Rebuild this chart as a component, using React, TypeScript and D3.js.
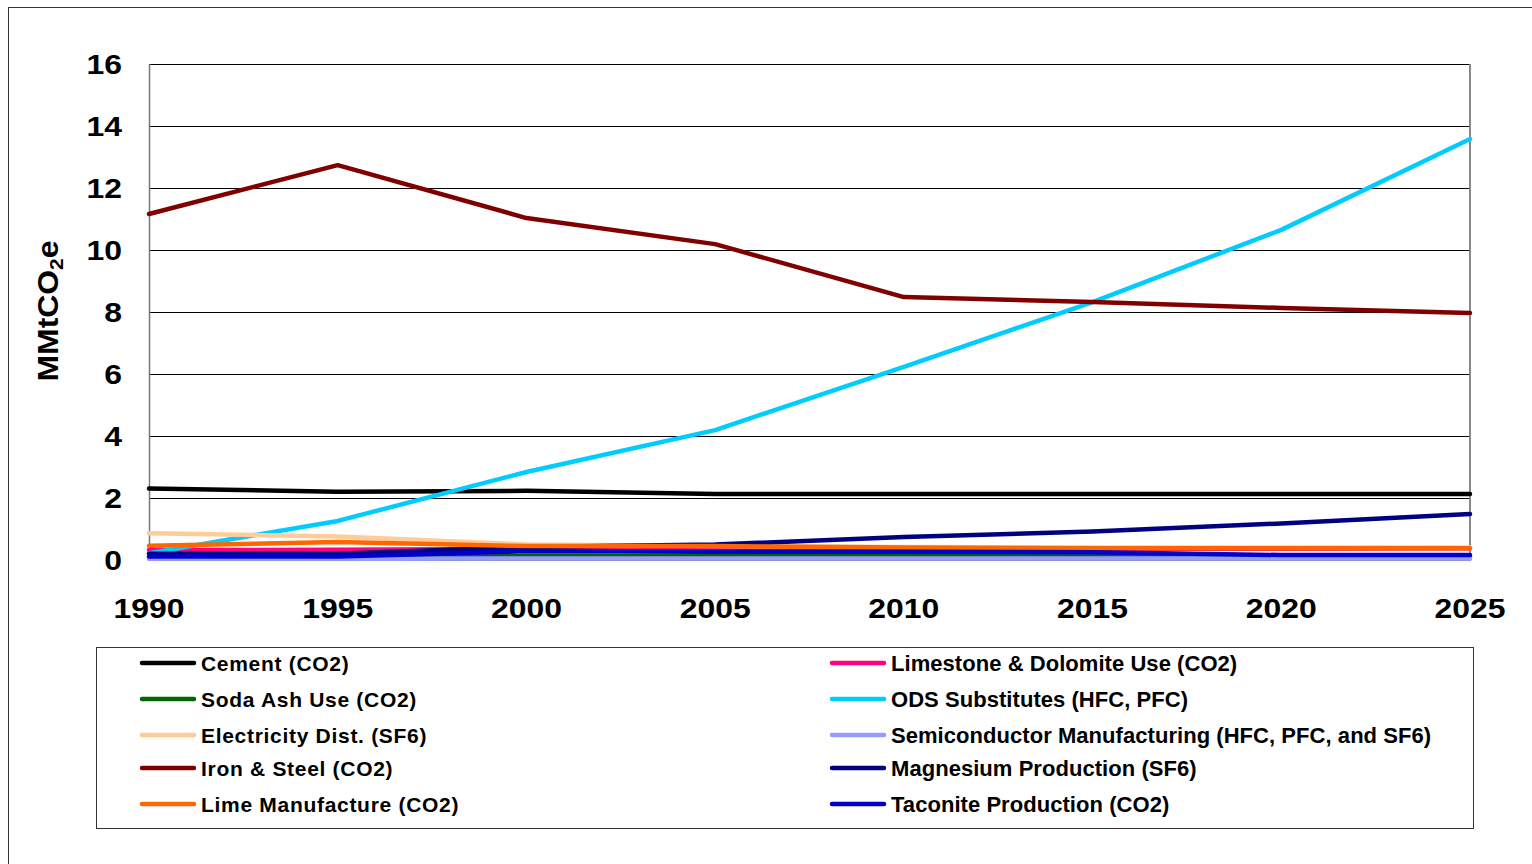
import React from "react";
import * as d3 from "d3";

const years = [1990, 1995, 2000, 2005, 2010, 2015, 2020, 2025];
const yTicks = [0, 2, 4, 6, 8, 10, 12, 14, 16];

const cement = [2.31, 2.2, 2.23, 2.13, 2.13, 2.13, 2.13, 2.13];
const limestone = [0.32, 0.33, 0.36, 0.36, 0.36, 0.36, 0.36, 0.38];
const sodaAsh = [0.1, 0.1, 0.12, 0.12, 0.12, 0.12, 0.1, 0.1];
const ods = [0.22, 1.26, 2.84, 4.19, 6.23, 8.32, 10.65, 13.58];
const electricity = [0.86, 0.76, 0.5, 0.45, 0.42, 0.4, 0.4, 0.4];
const semiconductor = [0.04, 0.04, 0.05, 0.05, 0.05, 0.05, 0.05, 0.05];
const ironSteel = [11.16, 12.74, 11.03, 10.19, 8.48, 8.32, 8.13, 7.97];
const magnesium = [0.2, 0.2, 0.42, 0.5, 0.74, 0.92, 1.18, 1.48];
const lime = [0.46, 0.58, 0.45, 0.45, 0.4, 0.38, 0.38, 0.38];
const taconite = [0.11, 0.11, 0.28, 0.27, 0.27, 0.25, 0.16, 0.16];

const seriesNames = [
  "Cement (CO2)",
  "Limestone & Dolomite Use (CO2)",
  "Soda Ash Use (CO2)",
  "ODS Substitutes (HFC, PFC)",
  "Electricity Dist. (SF6)",
  "Semiconductor Manufacturing (HFC, PFC, and SF6)",
  "Iron & Steel (CO2)",
  "Magnesium Production (SF6)",
  "Lime Manufacture (CO2)",
  "Taconite Production (CO2)",
];
const seriesValues = [
  cement,
  limestone,
  sodaAsh,
  ods,
  electricity,
  semiconductor,
  ironSteel,
  magnesium,
  lime,
  taconite,
];
const seriesColors = [
  "#000000",
  "#FF0080",
  "#006600",
  "#00CCFF",
  "#FFCC99",
  "#9999FF",
  "#800000",
  "#000080",
  "#FF6600",
  "#0000CC",
];

export default function App() {
  const W = 1532;
  const H = 864;
  const left = 149;
  const right = 1470;
  const top = 64;
  const bottom = 560;
  const x = d3.scaleLinear().domain([1990, 2025]).range([left, right]);
  const y = d3.scaleLinear().domain([0, 16]).range([bottom, top]);
  const line = d3
    .line<number>()
    .x((_, i) => x(years[i]))
    .y((d) => y(d));

  const font = "'Liberation Sans', Arial, sans-serif";

  const legendRowsY = [663, 699, 735, 768, 804];
  const legendColX = [140, 830];

  return (
    <svg
      width={W}
      height={H}
      style={{ position: "absolute", left: 0, top: 0, background: "#fff" }}
      fontFamily={font}
    >
      <rect x={0} y={0} width={W} height={H} fill="#fff" />
      {/* outer frame */}
      <line x1={8} y1={7.5} x2={W} y2={7.5} stroke="#333" strokeWidth={1} />
      <line x1={8.5} y1={7} x2={8.5} y2={H} stroke="#333" strokeWidth={1} />

      {/* grid */}
      {yTicks.map((t) => (
        <line
          key={t}
          x1={left}
          x2={right}
          y1={Math.round(y(t)) + 0.5}
          y2={Math.round(y(t)) + 0.5}
          stroke={t === 0 ? "#777" : "#000"}
          strokeWidth={1}
        />
      ))}
      <line x1={left + 0.5} x2={left + 0.5} y1={top} y2={bottom} stroke="#777" strokeWidth={1.5} />
      <line x1={right} x2={right} y1={top} y2={bottom + 1} stroke="#888" strokeWidth={2} />
      {years.map((yr) => (
        <line
          key={yr}
          x1={x(yr)}
          x2={x(yr)}
          y1={bottom - 4}
          y2={bottom + 1}
          stroke="#777"
          strokeWidth={1}
        />
      ))}

      {/* y tick labels */}
      {yTicks.map((t) => (
        <text
          key={t}
          transform={`translate(122,${y(t)}) scale(1.12,1)`}
          dy="0.36em"
          textAnchor="end"
          fontSize={28.5}
          fontWeight="bold"
          fill="#000"
        >
          {t}
        </text>
      ))}
      {/* x tick labels */}
      {years.map((yr) => (
        <text
          key={yr}
          transform={`translate(${x(yr)},618) scale(1.12,1)`}
          textAnchor="middle"
          fontSize={28.5}
          fontWeight="bold"
          fill="#000"
        >
          {yr}
        </text>
      ))}

      {/* y axis title */}
      <text
        transform="translate(58,311) rotate(-90) scale(1.1,1)"
        textAnchor="middle"
        fontSize={29}
        fontWeight="bold"
        fill="#000"
      >
        MMtCO
        <tspan fontSize={19} dy={5}>2</tspan>
        <tspan dy={-5}>e</tspan>
      </text>

      {/* series */}
      {seriesValues.map((vals, i) => (
        <path
          key={seriesNames[i]}
          d={line(vals) || ""}
          fill="none"
          stroke={seriesColors[i]}
          strokeWidth={4.5}
          strokeLinejoin="round"
          strokeLinecap="round"
        />
      ))}

      {/* legend */}
      <rect x={96.5} y={647.5} width={1377} height={181} fill="#fff" stroke="#333" strokeWidth={1} />
      {seriesNames.map((name, i) => {
        const col = i % 2;
        const row = Math.floor(i / 2);
        const lx = legendColX[col];
        const ly = legendRowsY[row];
        return (
          <g key={name}>
            <line
              x1={lx + 2}
              x2={lx + 54}
              y1={ly}
              y2={ly}
              stroke={seriesColors[i]}
              strokeWidth={4.5}
              strokeLinecap="round"
            />
            <text
              x={lx + 61}
              y={ly}
              dy="0.36em"
              fontSize={col === 0 ? 21 : 22}
              fontWeight="bold"
              fill="#000"
              letterSpacing={col === 0 ? 0.7 : 0.05}
            >
              {name}
            </text>
          </g>
        );
      })}
    </svg>
  );
}
